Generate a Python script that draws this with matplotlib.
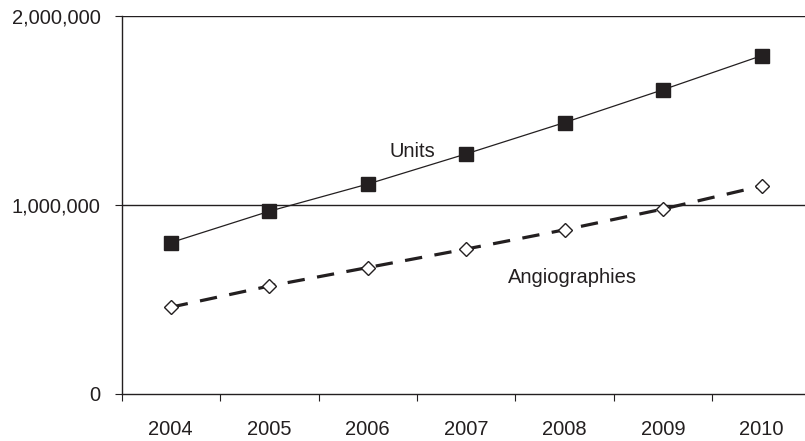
import matplotlib
matplotlib.use("Agg")
import matplotlib.pyplot as plt
from matplotlib.ticker import FuncFormatter, FixedLocator

# Data
years = ['2004', '2005', '2006', '2007', '2008', '2009', '2010']
units = [800000, 966000, 1110000, 1270000, 1436000, 1610000, 1790000]
angiographies = [458000, 570000, 668000, 766000, 868000, 978000, 1100000]

ink = '#231f20'
plt.rcParams['font.family'] = ['Liberation Sans', 'DejaVu Sans']
plt.rcParams['lines.scale_dashes'] = False

fig = plt.figure(figsize=(8.05, 4.41), dpi=100)
ax = fig.add_axes([0.151, 0.1073, 0.849, 0.8564])

x = list(range(len(years)))
ax.plot(x, units, '-', color=ink, linewidth=0.9, marker='s', markersize=10,
        markerfacecolor=ink, markeredgecolor=ink, zorder=3)
ax.plot(x, angiographies, color=ink, linewidth=2.3, dashes=(12.5, 9),
        marker='D', markersize=7.6, markerfacecolor='white',
        markeredgecolor=ink, markeredgewidth=1.0, zorder=3)

ax.text(2.45, 1285000, 'Units', fontsize=14.5, color=ink, ha='center', va='center')
ax.text(4.08, 615000, 'Angiographies', fontsize=14.5, color=ink, ha='center', va='center')

ax.set_xlim(-0.5, 6.44)
ax.set_ylim(0, 2000000)

# gridlines at 1M and 2M
for yv in (1000000, 2000000):
    ax.axhline(yv, color=ink, linewidth=1.0, zorder=1)

ax.set_yticks([0, 1000000, 2000000])
ax.yaxis.set_major_formatter(FuncFormatter(lambda v, p: f'{int(v):,}'))
ax.tick_params(axis='y', direction='out', length=5, width=0.8, colors=ink,
               labelsize=14.5, pad=10)

ax.xaxis.set_major_locator(FixedLocator([i - 0.5 for i in range(len(years))]))
ax.xaxis.set_minor_locator(FixedLocator(x))
ax.set_xticklabels([], minor=False)
ax.set_xticklabels(years, minor=True)
ax.tick_params(axis='x', which='major', direction='out', length=5, width=0.8, colors=ink)
ax.tick_params(axis='x', which='minor', length=0, labelsize=14.5, pad=19, colors=ink)

for s in ('top', 'right'):
    ax.spines[s].set_visible(False)
for s in ('left', 'bottom'):
    ax.spines[s].set_color(ink)
    ax.spines[s].set_linewidth(1.0)

fig.savefig('out.png', dpi=100)
